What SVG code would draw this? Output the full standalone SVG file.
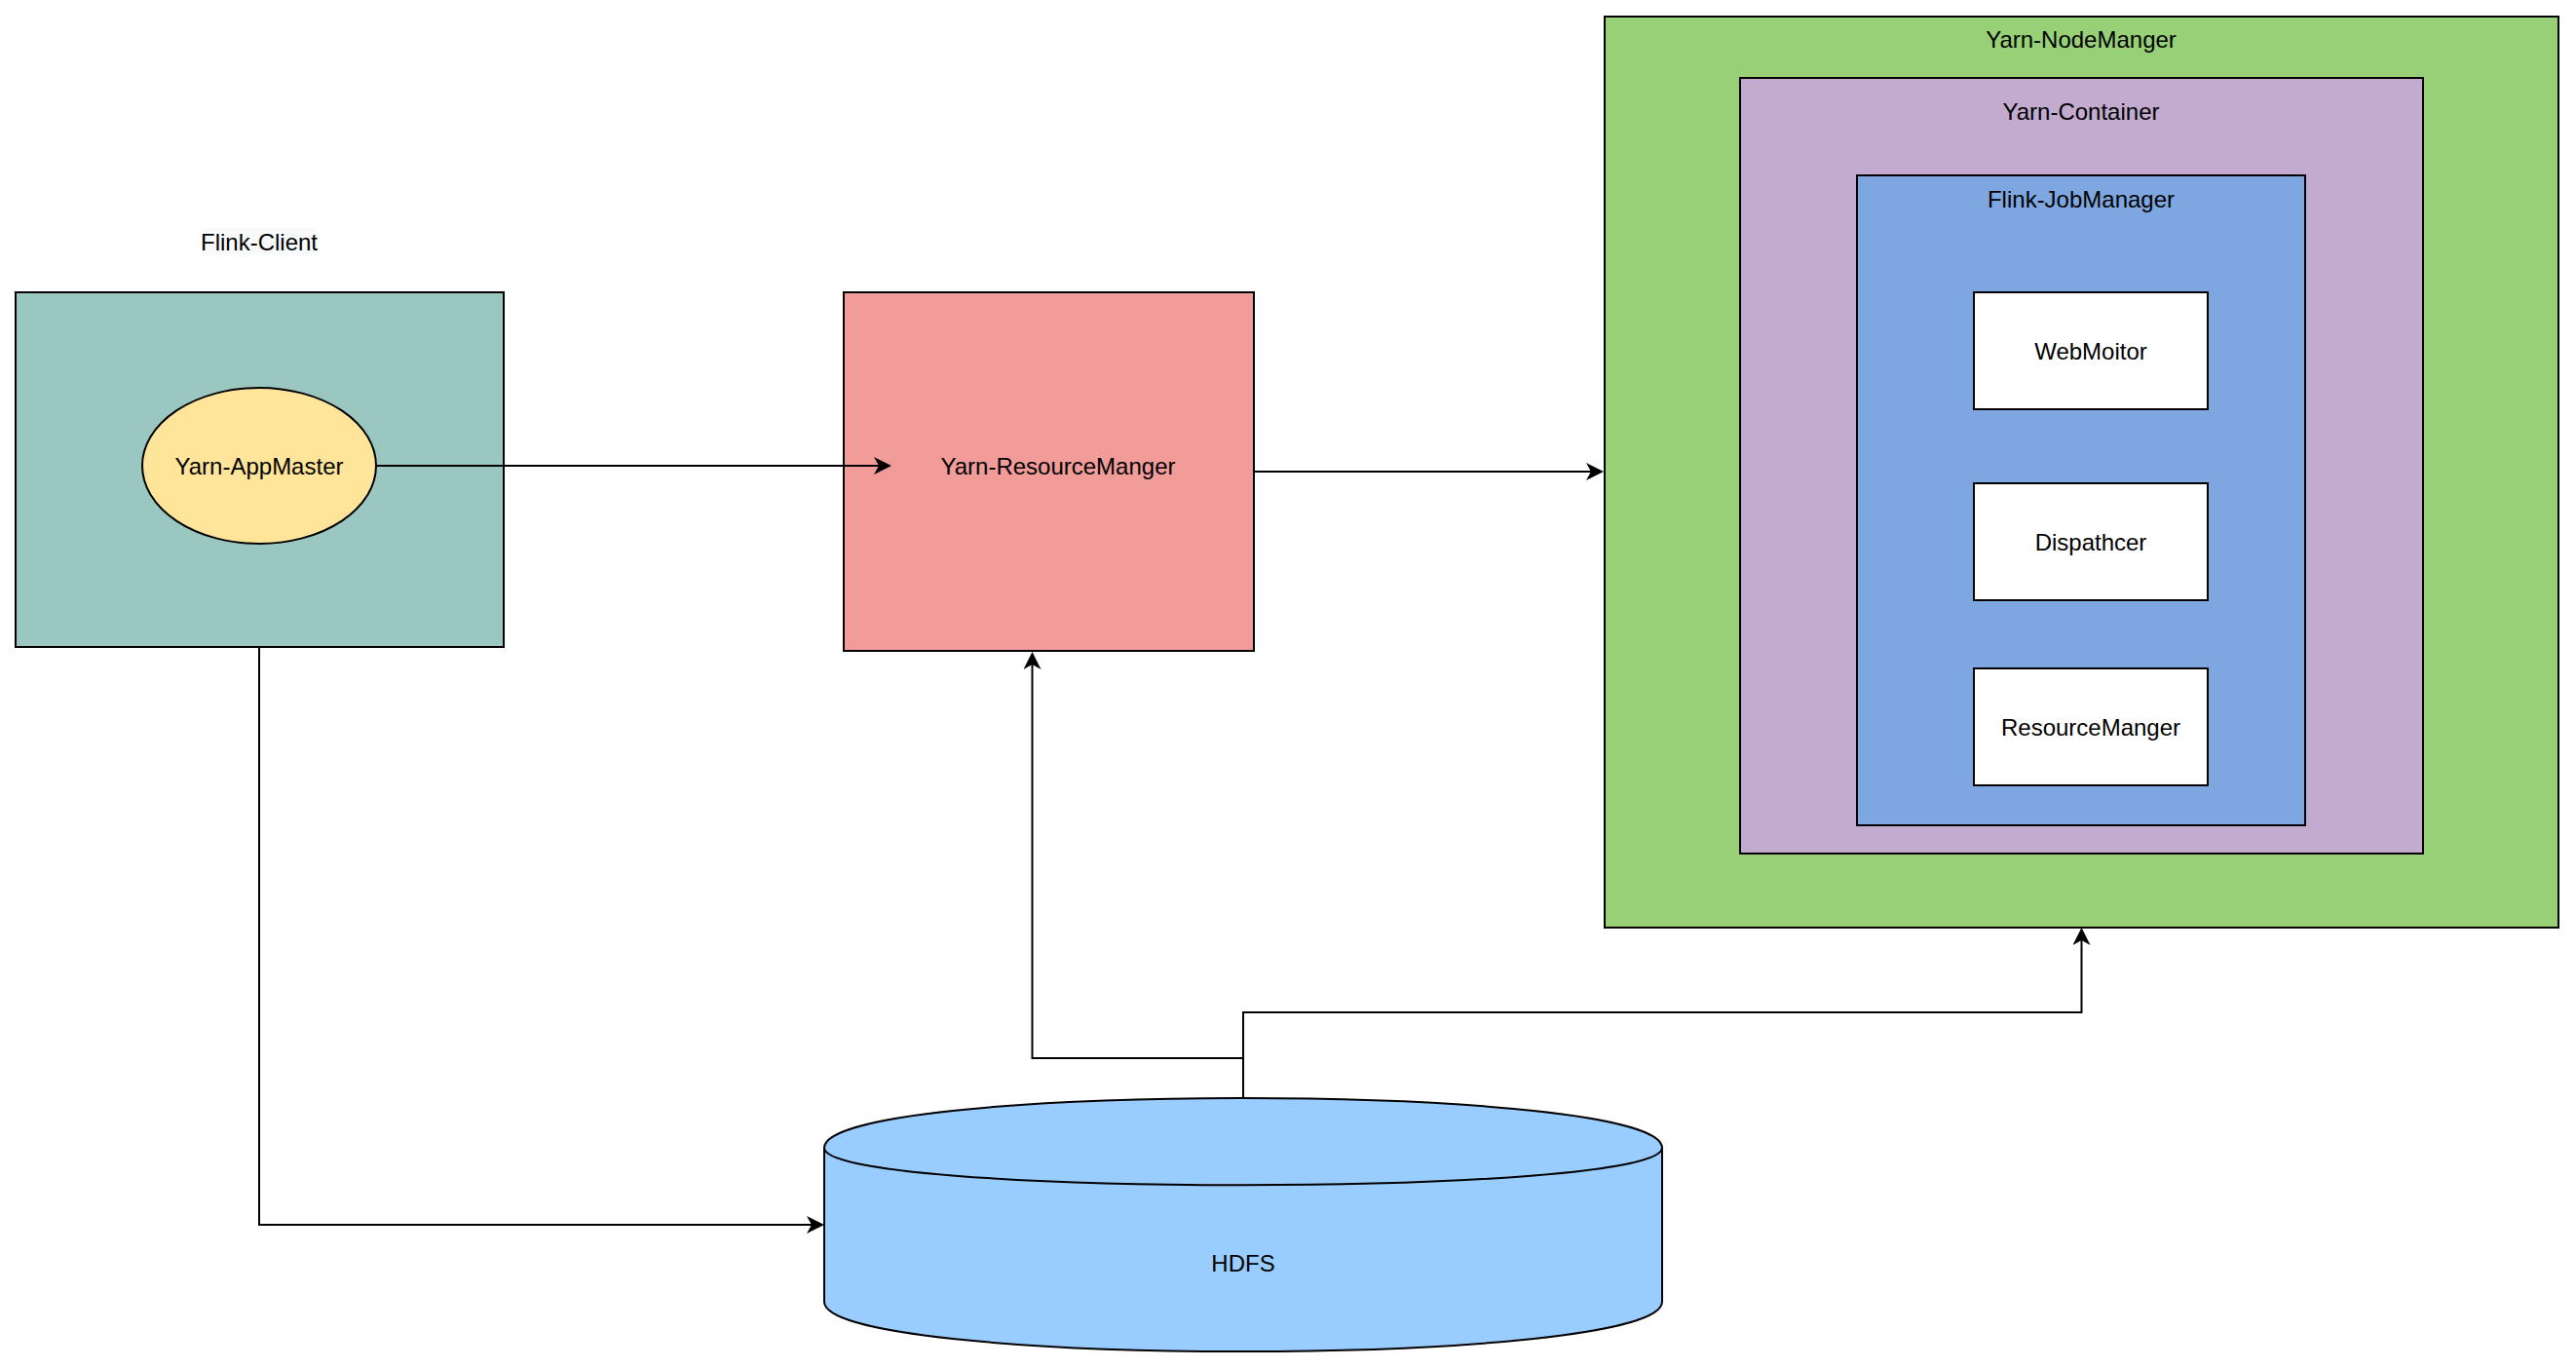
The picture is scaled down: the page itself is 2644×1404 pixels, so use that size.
<svg xmlns="http://www.w3.org/2000/svg" width="2644" height="1404" viewBox="0 0 2644 1404">
  <style>
    .box { stroke: #000; stroke-width: 2; }
    .lbl { font-family: "Liberation Sans", Arial, sans-serif; font-size: 24px; fill: #000; text-anchor: middle; }
    .edge { fill: none; stroke: #000; stroke-width: 2; }
  </style>
  <defs>
    <marker id="arrow" markerUnits="userSpaceOnUse" viewBox="0 0 18 18" markerWidth="18" markerHeight="18" refX="12" refY="9" orient="auto">
      <path d="M18,9 L0,0 L5,9 L0,18 Z" fill="#000"/>
    </marker>
  </defs>
  <rect width="2644" height="1404" fill="#fff"/>

  <g id="flink-client">
    <rect class="box" x="16" y="300" width="501" height="364" fill="#9AC7BF"/>
    <rect x="207" y="234" width="119" height="27" fill="#F8F9FA"/>
    <text class="lbl" x="266" y="256.5">Flink-Client</text>
  </g>
  <g id="yarn-appmaster">
    <ellipse class="box" cx="266" cy="478" rx="120" ry="80" fill="#FFE599"/>
    <text class="lbl" x="266" y="486.5">Yarn-AppMaster</text>
  </g>
  <g id="yarn-resourcemanger">
    <rect class="box" x="866" y="300" width="421" height="368" fill="#F19C99"/>
    <text class="lbl" x="1086" y="486.5">Yarn-ResourceManger</text>
  </g>
  <g id="yarn-nodemanger">
    <rect class="box" x="1647" y="17" width="979" height="935" fill="#97D077"/>
    <text class="lbl" x="2136" y="48.5">Yarn-NodeManger</text>
  </g>
  <g id="yarn-container">
    <rect class="box" x="1786" y="80" width="701" height="796" fill="#C3ABD0"/>
    <text class="lbl" x="2136" y="122.5">Yarn-Container</text>
  </g>
  <g id="flink-jobmanager">
    <rect class="box" x="1906" y="180" width="460" height="667" fill="#7EA6E0"/>
    <text class="lbl" x="2136" y="212.5">Flink-JobManager</text>
  </g>
  <g id="webmoitor">
    <rect class="box" x="2026" y="300" width="240" height="120" fill="#FFFFFF"/>
    <text class="lbl" x="2146" y="368.5">WebMoitor</text>
  </g>
  <g id="dispathcer">
    <rect class="box" x="2026" y="496" width="240" height="120" fill="#FFFFFF"/>
    <text class="lbl" x="2146" y="564.5">Dispathcer</text>
  </g>
  <g id="resourcemanger">
    <rect class="box" x="2026" y="686" width="240" height="120" fill="#FFFFFF"/>
    <text class="lbl" x="2146" y="754.5">ResourceManger</text>
  </g>
  <g id="hdfs">
    <path class="box" d="M846,1178 C846,1110 1706,1110 1706,1178 L1706,1336 C1706,1404 846,1404 846,1336 Z" fill="#99CCFF"/>
    <path class="box" d="M846,1178 C846,1229 1706,1229 1706,1178" fill="none"/>
    <text class="lbl" x="1276" y="1304.5">HDFS</text>
  </g>

  <g id="connectors">
    <path class="edge" d="M386,478 L909,478" marker-end="url(#arrow)"/>
    <path class="edge" d="M1287,484 L1640,484" marker-end="url(#arrow)"/>
    <path class="edge" d="M266,664 L266,1257 L840,1257" marker-end="url(#arrow)"/>
    <path class="edge" d="M1276,1127 L1276,1086 L1059.5,1086 L1059.5,675" marker-end="url(#arrow)"/>
    <path class="edge" d="M1276,1127 L1276,1039 L2136.5,1039 L2136.5,958" marker-end="url(#arrow)"/>
  </g>
</svg>
